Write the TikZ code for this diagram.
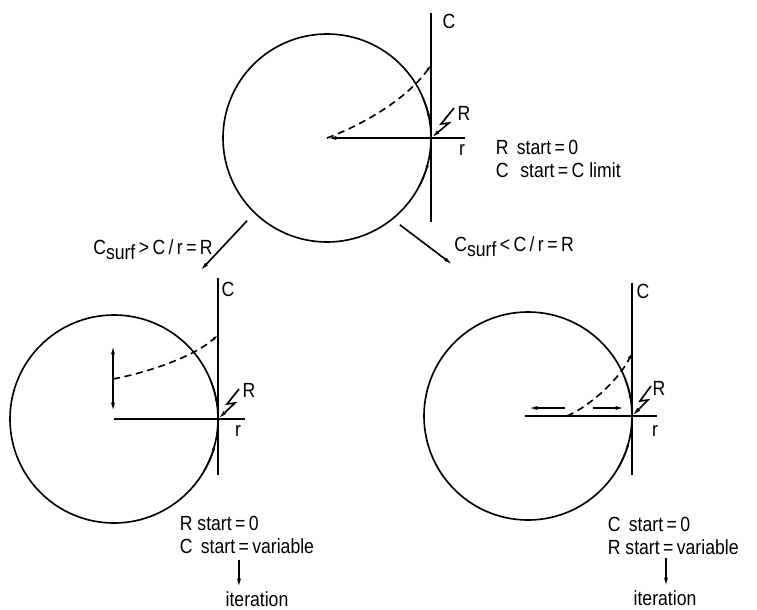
\documentclass[tikz,border=0pt]{standalone}
\usepackage{fontspec}
\setmainfont{Liberation Sans}[FakeStretch=0.86]
\usetikzlibrary{arrows.meta}

\begin{document}
\begin{tikzpicture}[x=0.03cm,y=-0.03cm,line width=1.4pt,>={Latex[length=8pt,width=3.4pt]},
  lbl/.style={font=\fontsize{17.5}{19}\selectfont,inner sep=0pt},
  info/.style={lbl,align=left,anchor=west},
  profile/.style={dash pattern=on 6pt off 4pt},
  tip/.style={-{Latex[length=5pt,width=2.8pt]}}]
\useasboundingbox (0,0) rectangle (757,609);
% top: starting situation
\coordinate (c1) at (327,138);
\coordinate (p1) at (431,138);
\coordinate (r1) at (465,138);
\coordinate (top1) at (431,13);
\coordinate (bot1) at (431,222);
\coordinate (d1) at (431,65);
\draw (c1) circle[radius=3.12cm];
\draw (top1) -- (bot1);
\draw[->] (r1) -- (c1);
\draw[profile,tip] (c1) .. controls (370,122) and (410,95) .. (d1);
\draw[tip] (c1) ++(22:3.12cm) arc[start angle=22,end angle=10,radius=3.12cm];
\draw[tip] (c1) ++(-28:3.12cm) arc[start angle=-28,end angle=-13,radius=3.12cm];
\draw[->] ([shift={(23,-30)}]p1) -- ++(-13,16) -- ++(8,-1) -- (p1);
\node[lbl] (C1) at (449,21) {C};
\node[lbl] (R1) at (464,113) {R};
\node[lbl] (rr1) at (462,150) {r};
\node[info] (start1) at (495,159) {R\, start\,=\,0\\C\,\, start\,=\,C limit};
% branches
\coordinate (fromL) at ([shift={(226:3.45cm)}]c1);
\coordinate (toL) at (200,271);
\coordinate (fromR) at ([shift={(-50:3.4cm)}]c1);
\coordinate (toR) at (453,265);
\draw[->] (fromL) -- (toL);
\draw[->] (fromR) -- (toR);
\node[lbl] (condL) at (153,250) {C\raisebox{-.45ex}{surf}\,>\,C\,/\,r\,=\,R};
\node[lbl] (condR) at (514,247) {C\raisebox{-.45ex}{surf}\,<\,C\,/\,r\,=\,R};
% bottom left: C varies
\coordinate (c2) at (114,419);
\coordinate (p2) at (218,419);
\coordinate (r2) at (245,419);
\coordinate (top2) at (218,278);
\coordinate (bot2) at (218,475);
\coordinate (m2a) at (113,345);
\coordinate (m2b) at (113,412);
\coordinate (s2) at (113,379);
\coordinate (d2) at (218,335);
\draw (c2) circle[radius=3.12cm];
\draw (top2) -- (bot2);
\draw (c2) -- (r2);
\draw[<->] (m2a) -- (m2b);
\draw[profile,tip] (s2) .. controls (150,372) and (195,356) .. (d2);
\draw[tip] (c2) ++(22:3.12cm) arc[start angle=22,end angle=8,radius=3.12cm];
\draw[tip] (c2) ++(-30:3.12cm) arc[start angle=-30,end angle=-14,radius=3.12cm];
\draw[->] ([shift={(21,-30)}]p2) -- ++(-12,15) -- ++(8,-1) -- (p2);
\node[lbl] (C2) at (228,289) {C};
\node[lbl] (R2) at (249,390) {R};
\node[lbl] (rr2) at (238,431) {r};
\node[info] (start2) at (179,535) {R start\,=\,0\\C\, start\,=\,variable};
\node[lbl,anchor=base] (iterL) at (257,606) {iteration};
\coordinate (aL) at (239,560);
\draw[->] (aL) -- ([yshift=2pt]aL |- iterL.north);
% bottom right: R varies
\coordinate (c3) at (528,416);
\coordinate (p3) at (632,416);
\coordinate (r3) at (657,416);
\coordinate (h3) at (525,416);
\coordinate (top3) at (632,283);
\coordinate (bot3) at (632,475);
\coordinate (la) at (565,408);
\coordinate (lb) at (528,408);
\coordinate (ra) at (593,408);
\coordinate (rb) at (625,408);
\coordinate (s3) at (567,416);
\coordinate (d3) at (632,353);
\draw (c3) circle[radius=3.12cm];
\draw (top3) -- (bot3);
\draw (h3) -- (r3);
\draw[->] (la) -- (lb);
\draw[->] (ra) -- (rb);
\draw[profile,tip] (s3) .. controls (592,405) and (620,378) .. (d3);
\draw[tip] (c3) ++(22:3.12cm) arc[start angle=22,end angle=8,radius=3.12cm];
\draw[tip] (c3) ++(-30:3.12cm) arc[start angle=-30,end angle=-14,radius=3.12cm];
\draw[->] ([shift={(19,-30)}]p3) -- ++(-11,15) -- ++(8,-1) -- (p3);
\node[lbl] (C3) at (643,291) {C};
\node[lbl] (R3) at (659,388) {R};
\node[lbl] (rr3) at (655,431) {r};
\node[info] (start3) at (607,536) {C\, start\,=\,0\\R start\,=\,variable};
\node[lbl,anchor=base] (iterR) at (665,605) {iteration};
\coordinate (aR) at (666,558);
\draw[->] (aR) -- ([yshift=2pt]aR |- iterR.north);
\end{tikzpicture}
\end{document}
